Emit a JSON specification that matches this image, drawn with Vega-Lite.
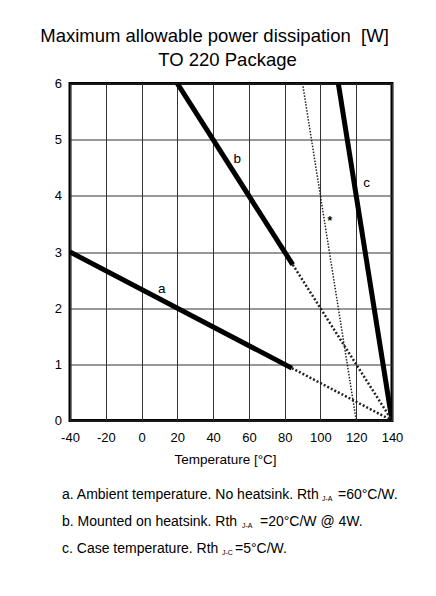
{
  "$schema": "https://vega.github.io/schema/vega-lite/v6.json",
  "padding": {"left": 40, "top": 26.5, "right": 0, "bottom": 0},
  "background": "white",
  "bounds": "flush",
  "spacing": 60.5,
  "config": {
    "axis": {
      "grid": true,
      "gridColor": "#333333",
      "gridWidth": 1,
      "gridOpacity": 1,
      "tickSize": 0,
      "domain": false,
      "labelFont": "Liberation Sans",
      "labelFontSize": 13,
      "labelColor": "black",
      "labelFlush": false,
      "labelOverlap": false
    }
  },
  "title": {
    "text": "Maximum allowable power dissipation\u00a0\u00a0[W]",
    "font": "Liberation Sans",
    "fontSize": 18.5,
    "fontWeight": "normal",
    "color": "black",
    "anchor": "middle",
    "frame": "group",
    "baseline": "alphabetic",
    "dx": -16.5,
    "offset": -12
  },
  "datasets": {
    "curves": [
      {"curve": "a", "part": "rated", "T": -40, "P": 3.0},
      {"curve": "a", "part": "rated", "T": 84, "P": 0.933},
      {"curve": "a", "part": "extrapolated", "T": 84, "P": 0.933},
      {"curve": "a", "part": "extrapolated", "T": 140, "P": 0.0},
      {"curve": "b", "part": "rated", "T": 20, "P": 6.0},
      {"curve": "b", "part": "rated", "T": 84.5, "P": 2.775},
      {"curve": "b", "part": "extrapolated", "T": 84.5, "P": 2.775},
      {"curve": "b", "part": "extrapolated", "T": 140, "P": 0.0},
      {"curve": "c", "part": "rated", "T": 110, "P": 6.0},
      {"curve": "c", "part": "rated", "T": 140, "P": 0.0},
      {"curve": "*", "part": "marked", "T": 90, "P": 6.0},
      {"curve": "*", "part": "marked", "T": 120, "P": 0.0}
    ],
    "labels": [
      {"label": "a", "T": 11.3, "P": 2.34},
      {"label": "b", "T": 53.5, "P": 4.66},
      {"label": "c", "T": 125.8, "P": 4.23}
    ],
    "marker": [
      {"label": "*", "T": 105.3, "P": 3.55}
    ],
    "notes": [
      {"line": "a", "main": "a. Ambient temperature. No heatsink. Rth", "sub": "J-A", "rest": "=60°C/W."},
      {"line": "b", "main": "b. Mounted on heatsink. Rth", "sub": "J-A", "rest": "=20°C/W @ 4W."},
      {"line": "c", "main": "c. Case temperature. Rth", "sub": "J-C", "rest": "=5°C/W."}
    ]
  },
  "vconcat": [
    {
      "width": 322,
      "height": 337,
      "view": {"stroke": "black", "strokeWidth": 3},
      "encoding": {
        "x": {
          "field": "T", "type": "quantitative",
          "scale": {"domain": [-40, 140], "nice": false, "zero": false},
          "axis": {
            "values": [-40, -20, 0, 20, 40, 60, 80, 100, 120, 140],
            "tickCount": 10,
            "labelOverlap": false,
            "labelExpr": "datum.value + ''",
            "title": "Temperature [°C]",
            "labelPadding": 11,
            "titleFont": "Liberation Sans", "titleFontSize": 13.5, "titleFontWeight": "normal",
            "titleColor": "black", "titlePadding": 8, "titleX": 155
          }
        },
        "y": {
          "field": "P", "type": "quantitative",
          "scale": {"domain": [0, 6], "nice": false},
          "axis": {
            "values": [0, 1, 2, 3, 4, 5, 6],
            "labelOverlap": false,
            "labelExpr": "datum.value + ''",
            "labelPadding": 8.5,
            "title": "TO 220 Package",
            "titleAngle": 0,
            "titleAlign": "center",
            "titleBaseline": "alphabetic",
            "titleX": 157,
            "titleY": -18.3,
            "titleFont": "Liberation Sans", "titleFontSize": 18.5, "titleFontWeight": "normal",
            "titleColor": "black"
          }
        }
      },
      "layer": [
        {
          "data": {"name": "curves"},
          "transform": [{"filter": "datum.part === 'rated'"}],
          "mark": {"type": "line", "color": "black", "strokeWidth": 5, "clip": true, "strokeCap": "butt"},
          "encoding": {"detail": {"field": "curve"}}
        },
        {
          "data": {"name": "curves"},
          "transform": [{"filter": "datum.part === 'extrapolated'"}],
          "mark": {"type": "line", "color": "#222", "strokeWidth": 2.5, "strokeDash": [2, 2], "clip": true},
          "encoding": {"detail": {"field": "curve"}}
        },
        {
          "data": {"name": "curves"},
          "transform": [{"filter": "datum.part === 'marked'"}],
          "mark": {"type": "line", "color": "#222", "strokeWidth": 1.5, "strokeDash": [1.5, 1.5], "clip": true},
          "encoding": {"detail": {"field": "curve"}}
        },
        {
          "data": {"name": "labels"},
          "mark": {"type": "text", "font": "Liberation Sans", "fontSize": 13.5, "color": "black", "align": "center", "baseline": "middle"},
          "encoding": {"text": {"field": "label"}}
        },
        {
          "data": {"name": "marker"},
          "mark": {"type": "text", "font": "Liberation Sans", "fontSize": 12, "fontWeight": "bold", "color": "black", "align": "center", "baseline": "middle"},
          "encoding": {"text": {"field": "label"}}
        }
      ]
    },
    {
      "width": 322,
      "height": 81,
      "view": {"stroke": null},
      "data": {"name": "notes"},
      "encoding": {
        "y": {"field": "line", "type": "nominal", "axis": null, "scale": {"paddingInner": 0, "paddingOuter": 0}}
      },
      "layer": [
        {
          "mark": {"type": "text", "align": "left", "baseline": "middle", "dx": -8, "font": "Liberation Sans", "fontSize": 14, "color": "black"},
          "encoding": {"x": {"value": 0}, "text": {"field": "main"}}
        },
        {
          "transform": [{"filter": "datum.line === 'a'"}],
          "mark": {"type": "text", "align": "left", "baseline": "middle", "dx": 252, "dy": 4, "font": "Liberation Sans", "fontSize": 7, "color": "black"},
          "encoding": {"x": {"value": 0}, "text": {"field": "sub"}}
        },
        {
          "transform": [{"filter": "datum.line === 'a'"}],
          "mark": {"type": "text", "align": "left", "baseline": "middle", "dx": 268, "font": "Liberation Sans", "fontSize": 14, "color": "black"},
          "encoding": {"x": {"value": 0}, "text": {"field": "rest"}}
        },
        {
          "transform": [{"filter": "datum.line === 'b'"}],
          "mark": {"type": "text", "align": "left", "baseline": "middle", "dx": 172, "dy": 4, "font": "Liberation Sans", "fontSize": 7, "color": "black"},
          "encoding": {"x": {"value": 0}, "text": {"field": "sub"}}
        },
        {
          "transform": [{"filter": "datum.line === 'b'"}],
          "mark": {"type": "text", "align": "left", "baseline": "middle", "dx": 190, "font": "Liberation Sans", "fontSize": 14, "color": "black"},
          "encoding": {"x": {"value": 0}, "text": {"field": "rest"}}
        },
        {
          "transform": [{"filter": "datum.line === 'c'"}],
          "mark": {"type": "text", "align": "left", "baseline": "middle", "dx": 152, "dy": 4, "font": "Liberation Sans", "fontSize": 7, "color": "black"},
          "encoding": {"x": {"value": 0}, "text": {"field": "sub"}}
        },
        {
          "transform": [{"filter": "datum.line === 'c'"}],
          "mark": {"type": "text", "align": "left", "baseline": "middle", "dx": 165, "font": "Liberation Sans", "fontSize": 14, "color": "black"},
          "encoding": {"x": {"value": 0}, "text": {"field": "rest"}}
        }
      ]
    }
  ]
}
